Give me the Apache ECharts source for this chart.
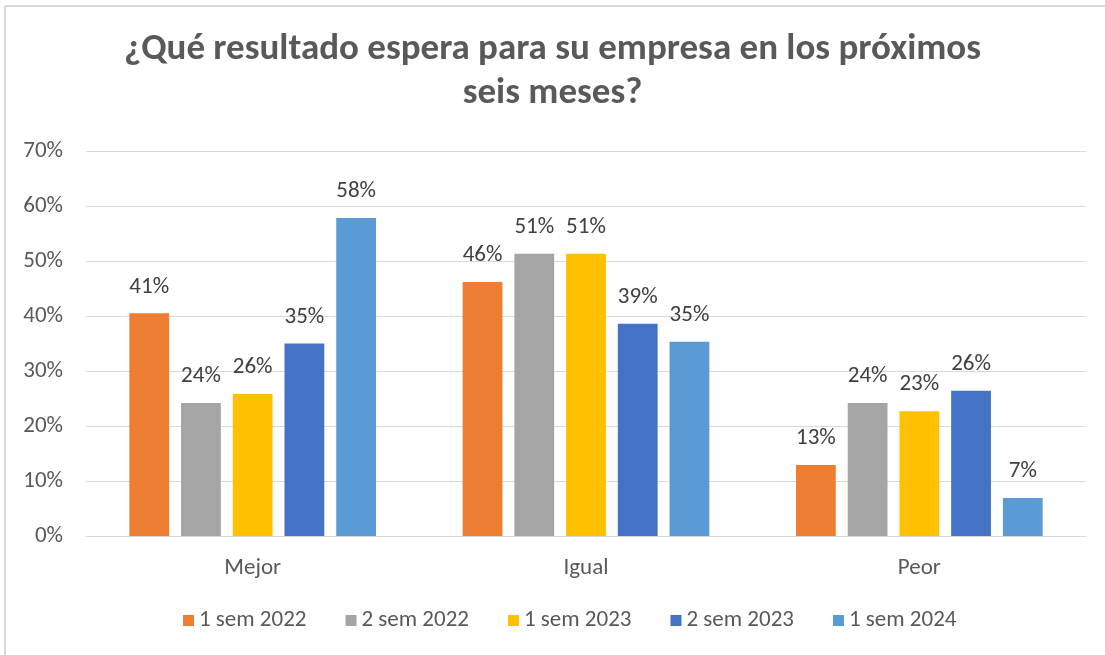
<!DOCTYPE html>
<html>
<head>
<meta charset="utf-8">
<script src="https://cdn.jsdelivr.net/npm/echarts@6/dist/echarts.min.js"></script>
<style>
  html, body { margin: 0; padding: 0; background: #fff; }
  #chart { width: 1105px; height: 655px; }
</style>
</head>
<body>
<div id="chart"></div>
<script>
const categories = ['Mejor', 'Igual', 'Peor'];
const seriesNames = ['1 sem 2022', '2 sem 2022', '1 sem 2023', '2 sem 2023', '1 sem 2024'];
const sem1_2022 = [0.405, 0.462, 0.129];
const sem2_2022 = [0.242, 0.513, 0.242];
const sem1_2023 = [0.258, 0.513, 0.227];
const sem2_2023 = [0.350, 0.386, 0.264];
const sem1_2024 = [0.578, 0.353, 0.069];
const colors = ['#ED7D31', '#A5A5A5', '#FFC000', '#4472C4', '#5B9BD5'];

const FONT = 'Carlito, "Open Sans", "Liberation Sans", sans-serif';
const values = [sem1_2022, sem2_2022, sem1_2023, sem2_2023, sem1_2024];

const chart = echarts.init(document.getElementById('chart'));

const series = seriesNames.map((name, i) => ({
  name,
  type: 'bar',
  data: values[i],
  itemStyle: { color: colors[i] },
  barGap: '30%',
  barCategoryGap: '26%',
  label: {
    show: true,
    position: 'top',
    distance: 15,
    color: '#404040',
    fontSize: 23,
    fontFamily: FONT,
    formatter: p => Math.round(p.value * 100) + '%'
  }
}));

chart.setOption({
  backgroundColor: '#fff',
  animation: false,
  textStyle: { fontFamily: FONT },
  title: {
    text: '¿Qué resultado espera para su empresa en los próximos\nseis meses?',
    left: 'center',
    top: 23,
    padding: [5, 5, 5, 25],
    textStyle: {
      fontSize: 37,
      fontWeight: 'bold',
      color: '#595959',
      lineHeight: 44,
      fontFamily: FONT
    }
  },
  grid: { left: 86, right: 19, top: 151, bottom: 119, containLabel: false },
  legend: {
    data: seriesNames,
    bottom: 18,
    left: 178,
    icon: 'rect',
    itemWidth: 11,
    itemHeight: 11,
    itemGap: 39,
    textStyle: { fontSize: 23, color: '#595959', fontFamily: FONT }
  },
  xAxis: {
    type: 'category',
    data: categories,
    axisLine: { lineStyle: { color: '#d9d9d9', width: 1 } },
    axisTick: { show: false },
    axisLabel: { fontSize: 23, color: '#595959', margin: 21, fontFamily: FONT }
  },
  yAxis: {
    type: 'value',
    min: 0,
    max: 0.7,
    interval: 0.1,
    axisLine: { show: false },
    axisTick: { show: false },
    splitLine: { lineStyle: { color: '#d9d9d9', width: 1 } },
    axisLabel: {
      fontSize: 23,
      color: '#595959',
      margin: 23,
      fontFamily: FONT,
      formatter: v => Math.round(v * 100) + '%'
    }
  },
  graphic: [
    { type: 'line', shape: { x1: 5, y1: 6, x2: 1105, y2: 6 }, style: { stroke: '#d9d9d9', lineWidth: 2 } },
    { type: 'line', shape: { x1: 5, y1: 6, x2: 5, y2: 655 }, style: { stroke: '#d9d9d9', lineWidth: 2 } }
  ],
  series
});
</script>
</body>
</html>
